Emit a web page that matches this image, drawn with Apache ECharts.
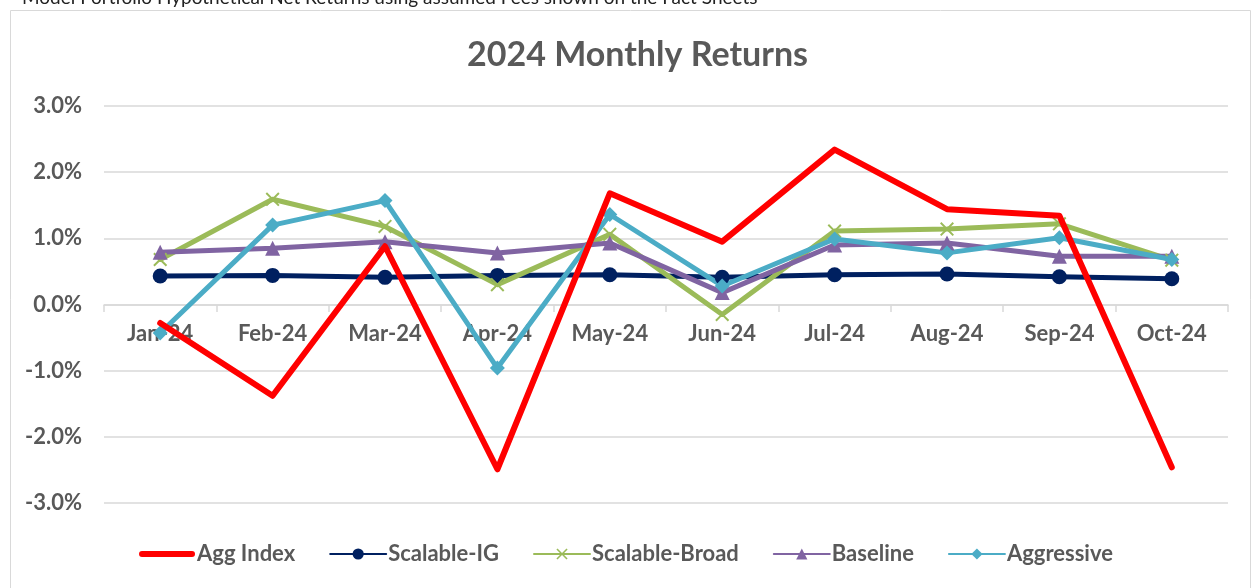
<!DOCTYPE html>
<html>
<head>
<meta charset="utf-8">
<script src="https://cdn.jsdelivr.net/npm/echarts@6/dist/echarts.min.js"></script>
<style>
  html, body { margin: 0; padding: 0; background: #fff; }
  #chart { width: 1252px; height: 588px; }
</style>
</head>
<body>
<div id="chart"></div>
<script>
var months = ["Jan-24", "Feb-24", "Mar-24", "Apr-24", "May-24", "Jun-24", "Jul-24", "Aug-24", "Sep-24", "Oct-24"];
var aggIndex = [-0.28, -1.38, 0.88, -2.49, 1.68, 0.95, 2.34, 1.44, 1.34, -2.46];
var scalableIG = [0.43, 0.44, 0.41, 0.44, 0.45, 0.41, 0.45, 0.46, 0.42, 0.39];
var scalableBroad = [0.68, 1.59, 1.18, 0.30, 1.06, -0.15, 1.11, 1.14, 1.22, 0.67];
var baseline = [0.79, 0.85, 0.95, 0.78, 0.93, 0.18, 0.90, 0.93, 0.73, 0.73];
var aggressive = [-0.43, 1.20, 1.57, -0.96, 1.36, 0.28, 0.99, 0.78, 1.01, 0.68];

var font = "Lato, sans-serif";
var grey = "#595959";
var crossPath = "path://M0,1L1,0L5,4L9,0L10,1L6,5L10,9L9,10L5,6L1,10L0,9L4,5Z";
var barIcon = "path://M3,0H53A3,3 0 0 1 53,6H3A3,3 0 0 1 3,0Z";

var myChart = echarts.init(document.getElementById("chart"));

function lineSeries(name, data, color, symbol, size, width, z) {
  return {
    name: name,
    type: "line",
    data: data,
    symbol: symbol,
    symbolSize: size,
    showSymbol: symbol !== "none",
    z: z,
    lineStyle: { color: color, width: width, cap: "round", join: "round" },
    itemStyle: { color: color },
    emphasis: { disabled: true },
  };
}

var option = {
  animation: false,
  textStyle: { fontFamily: font },
  title: {
    text: "2024 Monthly Returns",
    left: 462,
    top: 33,
    textStyle: { fontSize: 34, fontWeight: "bold", color: grey, fontFamily: font },
  },
  graphic: [
    {
      type: "rect",
      shape: { x: 10.5, y: 10.5, width: 1240, height: 600 },
      style: { fill: "none", stroke: "#d9d9d9", lineWidth: 1 },
      silent: true,
    },
    {
      type: "text",
      left: 22,
      top: -12,
      style: {
        text: "Model Portfolio Hypothetical Net Returns using assumed Fees shown on the Fact Sheets",
        fontSize: 19,
        fontFamily: font,
        fill: "#222",
      },
      silent: true,
    },
  ],
  legend: {
    bottom: 18,
    left: "center",
    itemWidth: 56,
    itemHeight: 14,
    itemGap: 34,
    textStyle: { fontSize: 22, fontWeight: "bold", color: grey, fontFamily: font, padding: [0, 0, 0, -3] },
    data: [
      { name: "Agg Index", icon: barIcon },
      "Scalable-IG",
      "Scalable-Broad",
      "Baseline",
      "Aggressive",
    ],
  },
  grid: { left: 104, right: 24, top: 106, bottom: 85 },
  xAxis: {
    type: "category",
    data: months,
    offset: -198,
    axisLine: { onZero: false, lineStyle: { color: "#d9d9d9", width: 1.5 } },
    axisTick: { show: true, length: 7, lineStyle: { color: "#d9d9d9", width: 1.5 } },
    axisLabel: { fontSize: 22, fontWeight: "bold", color: grey, margin: 18, fontFamily: font },
  },
  yAxis: {
    type: "value",
    min: -3,
    max: 3,
    interval: 1,
    axisLine: { show: false },
    axisTick: { show: false },
    splitLine: { lineStyle: { color: "#d9d9d9", width: 1.5 } },
    axisLabel: {
      fontSize: 22,
      fontWeight: "bold",
      color: grey,
      margin: 22,
      fontFamily: font,
      formatter: function (v) { return v.toFixed(1) + "%"; },
    },
  },
  series: [
    lineSeries("Agg Index", aggIndex, "#ff0000", "none", 0, 6, 3),
    lineSeries("Scalable-IG", scalableIG, "#002060", "circle", 15, 5, 2),
    lineSeries("Scalable-Broad", scalableBroad, "#9bbb59", crossPath, 14, 5, 2),
    lineSeries("Baseline", baseline, "#8064a2", "triangle", 15, 5, 2),
    lineSeries("Aggressive", aggressive, "#4bacc6", "diamond", 15, 5, 2),
  ],
};

myChart.setOption(option);
</script>
</body>
</html>
